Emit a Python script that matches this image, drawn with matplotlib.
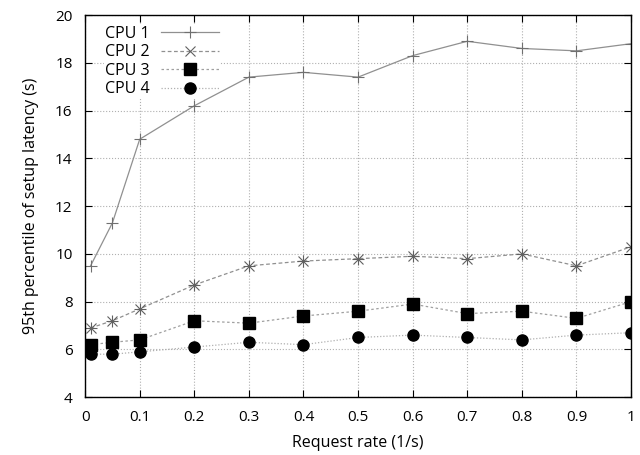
import numpy as np
import matplotlib
matplotlib.use('Agg')
import matplotlib.pyplot as plt

plt.rcParams['font.family'] = ['Open Sans', 'DejaVu Sans']

# request rate (1/s)
rate = [0.01, 0.05, 0.1, 0.2, 0.3, 0.4, 0.5, 0.6, 0.7, 0.8, 0.9, 1.0]

# 95th percentile of setup latency (s)
cpu1 = [9.5, 11.3, 14.8, 16.2, 17.4, 17.6, 17.4, 18.3, 18.9, 18.6, 18.5, 18.8]
cpu2 = [6.9, 7.2, 7.7, 8.7, 9.5, 9.7, 9.8, 9.9, 9.8, 10.0, 9.5, 10.3]
cpu3 = [6.2, 6.3, 6.4, 7.2, 7.1, 7.4, 7.6, 7.9, 7.5, 7.6, 7.3, 8.0]
cpu4 = [5.8, 5.8, 5.9, 6.1, 6.3, 6.2, 6.5, 6.6, 6.5, 6.4, 6.6, 6.7]

xticks = [0, 0.1, 0.2, 0.3, 0.4, 0.5, 0.6, 0.7, 0.8, 0.9, 1]
xtick_labels = ['0', '0.1', '0.2', '0.3', '0.4', '0.5', '0.6', '0.7', '0.8', '0.9', '1']
yticks = [4, 6, 8, 10, 12, 14, 16, 18, 20]

fig = plt.figure(figsize=(6.4, 4.55), dpi=100)
ax = fig.add_axes([0.133, 0.127, 0.853, 0.84])

ax.plot(rate, cpu1, color='#909090', lw=0.9, ls='-', marker='+', ms=9,
        mec='#707070', mew=0.8, label='CPU 1')
ax.plot(rate, cpu2, color='#909090', lw=0.9, ls=(0, (3, 2)), marker='x', ms=7,
        mec='#606060', mew=0.8, label='CPU 2')
# asterisk effect for CPU 2
ax.plot(rate, cpu2, ls='none', marker='+', ms=9, mec='#606060', mew=0.8)
ax.plot(rate, cpu3, color='#a0a0a0', lw=0.9, ls=(0, (2, 2)), marker='s', ms=8,
        mfc='black', mec='black', label='CPU 3')
ax.plot(rate, cpu4, color='#b0b0b0', lw=0.9, ls=(0, (1, 1.5)), marker='o', ms=8,
        mfc='black', mec='black', label='CPU 4')

ax.set_xlim(0, 1)
ax.set_ylim(4, 20)
ax.set_xticks(xticks)
ax.set_xticklabels(xtick_labels)
ax.set_yticks(yticks)
ax.tick_params(direction='in', top=True, right=True, length=5, labelsize=11,
               width=0.8)
ax.tick_params(axis='x', pad=9)
ax.tick_params(axis='y', pad=9)
ax.grid(True, color='#b0b0b0', ls=':', lw=0.8)
for s in ax.spines.values():
    s.set_linewidth(1.0)

ax.set_xlabel('Request rate (1/s)', fontsize=11.5)
ax.set_ylabel('95th percentile of setup latency (s)', fontsize=11.5)
ax.xaxis.set_label_coords(0.5, -0.1)
ax.yaxis.set_label_coords(-0.085, 0.5)

leg = ax.legend(loc='upper left', markerfirst=False, frameon=True, fontsize=11.5,
                handlelength=3.6, borderaxespad=0.35, labelspacing=0.15,
                handletextpad=0.7, bbox_to_anchor=(0.024, 0.99),
                fancybox=False, borderpad=0.1)
leg.get_frame().set_edgecolor('none')
leg.get_frame().set_facecolor('white')
leg.get_frame().set_alpha(1.0)
# keep the legend box above the grid but below the data lines
leg.set_zorder(1.8)

fig.savefig('out.png', dpi=100)
